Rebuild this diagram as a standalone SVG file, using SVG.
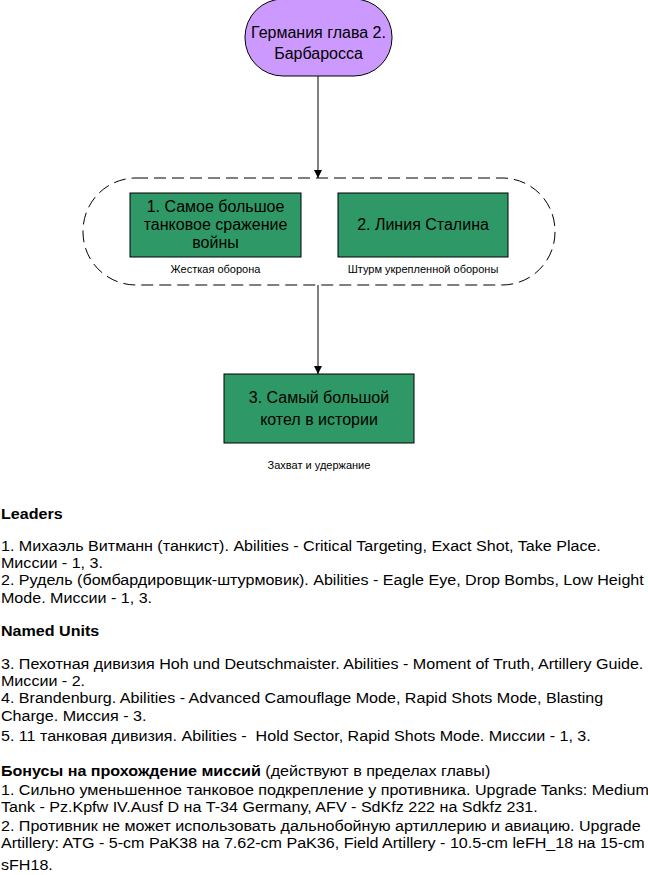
<svg xmlns="http://www.w3.org/2000/svg" width="648" height="875" viewBox="0 0 648 875">
<style>
text{font-family:"Liberation Sans",Arial,sans-serif;fill:#000}
.n{font-size:16px;text-anchor:middle}
.s{font-size:11px;text-anchor:middle}
.b{font-size:14.5px}
.h{font-size:14.5px;font-weight:bold}
.box{fill:#2E9966;stroke:#000;stroke-width:1}
.ln{stroke:#000;stroke-width:1;fill:none}
</style>
<defs>
<marker id="ar" viewBox="0 0 10 10" refX="10" refY="5" markerWidth="8" markerHeight="8" markerUnits="userSpaceOnUse" orient="auto">
<path d="M0,0 L10,5 L0,10 z" fill="#000"/>
</marker>
</defs>
<g id="connectors">
<line class="ln" x1="318" y1="76" x2="318" y2="178" marker-end="url(#ar)"/>
<line class="ln" x1="318" y1="285" x2="318" y2="374" marker-end="url(#ar)"/>
</g>
<g id="start">
<rect x="245" y="-1" width="147" height="77" rx="38" ry="38" fill="#CC99FF" stroke="#000"/>
<text x="318.5" y="38" class="n">Германия глава 2.</text>
<text x="318.5" y="59" class="n">Барбаросса</text>
</g>
<g id="group">
<rect x="83" y="178" width="472" height="107" rx="53" ry="53" fill="none" stroke="#000" stroke-dasharray="12,6"/>
</g>
<g id="m1">
<rect class="box" x="130" y="193" width="171" height="64"/>
<text x="215.5" y="212" class="n">1. Самое большое</text>
<text x="215.5" y="230" class="n">танковое сражение</text>
<text x="215.5" y="248" class="n">войны</text>
<text x="215.5" y="273" class="s">Жесткая оборона</text>
</g>
<g id="m2">
<rect class="box" x="338" y="193" width="170" height="64"/>
<text x="423" y="230" class="n">2. Линия Сталина</text>
<text x="423" y="273" class="s">Штурм укрепленной обороны</text>
</g>
<g id="m3">
<rect class="box" x="224" y="374" width="190" height="69"/>
<text x="319" y="403" class="n">3. Самый большой</text>
<text x="319" y="425" class="n">котел в истории</text>
<text x="319" y="469" class="s">Захват и удержание</text>
</g>
<g id="notes" transform="scale(1.11,1)">
<text x="0.9" y="519" class="h">Leaders</text>
<text x="0.9" y="551" class="b">1. Михаэль Витманн (танкист). Abilities - Critical Targeting, Exact Shot, Take Place.</text>
<text x="0.9" y="568" class="b">Миссии - 1, 3.</text>
<text x="0.9" y="585" class="b">2. Рудель (бомбардировщик-штурмовик). Abilities - Eagle Eye, Drop Bombs, Low Height</text>
<text x="0.9" y="603" class="b">Mode. Миссии - 1, 3.</text>
<text x="0.9" y="636" class="h">Named Units</text>
<text x="0.9" y="669" class="b">3. Пехотная дивизия Hoh und Deutschmaister. Abilities - Moment of Truth, Artillery Guide.</text>
<text x="0.9" y="686" class="b">Миссии - 2.</text>
<text x="0.9" y="703" class="b">4. Brandenburg. Abilities - Advanced Camouflage Mode, Rapid Shots Mode, Blasting</text>
<text x="0.9" y="721" class="b">Charge. Миссия - 3.</text>
<text x="0.9" y="741" class="b">5. 11 танковая дивизия. Abilities -&#160; Hold Sector, Rapid Shots Mode. Миссии - 1, 3.</text>
<text x="0.9" y="776" class="b"><tspan font-weight="bold">Бонусы на прохождение миссий</tspan> (действуют в пределах главы)</text>
<text x="0.9" y="795" class="b">1. Сильно уменьшенное танковое подкрепление у противника. Upgrade Tanks: Medium</text>
<text x="0.9" y="812" class="b">Tank - Pz.Kpfw IV.Ausf D на T-34 Germany, AFV - SdKfz 222 на Sdkfz 231.</text>
<text x="0.9" y="831" class="b">2. Противник не может использовать дальнобойную артиллерию и авиацию. Upgrade</text>
<text x="0.9" y="848" class="b">Artillery: ATG - 5-cm PaK38 на 7.62-cm PaK36, Field Artillery - 10.5-cm leFH_18 на 15-cm</text>
<text x="0.9" y="870" class="b">sFH18.</text>
</g>
</svg>
